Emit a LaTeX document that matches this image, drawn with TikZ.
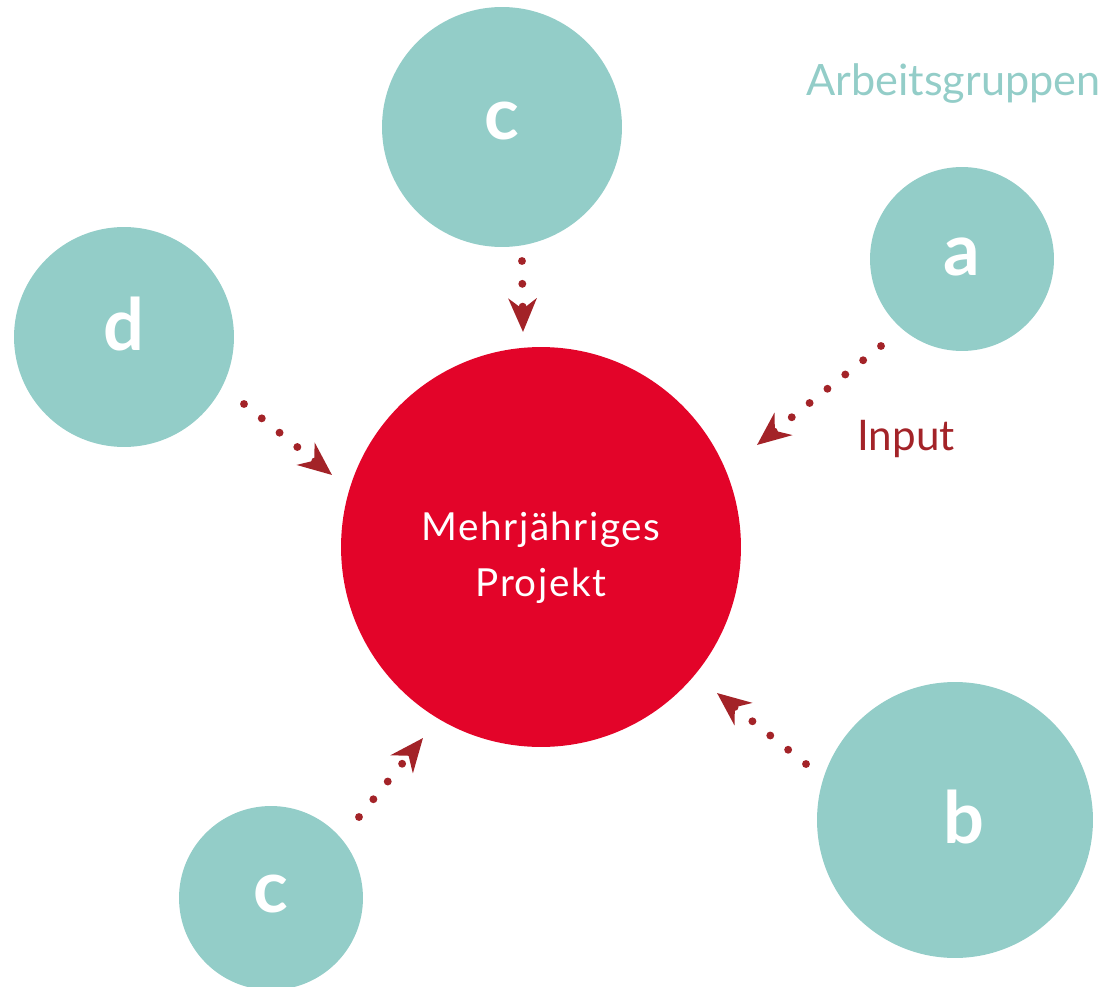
\documentclass[tikz,border=0pt]{standalone}
\usepackage{fontspec}
\setmainfont{Lato}
\usetikzlibrary{arrows.meta}

\definecolor{gruppe}{HTML}{93CDC8}
\definecolor{projekt}{HTML}{E30429}
\definecolor{pfeil}{HTML}{A32328}

\tikzset{
  gruppe/.style={circle, fill=gruppe, text=white, text depth=0pt,
    font=\bfseries\fontsize{41}{41}\selectfont},
  input/.style={draw=pfeil, line width=4.5pt, line cap=round,
    dash pattern=on 0pt off 13pt,
    -{Stealth[length=19pt, width=16pt, inset=6pt, fill=pfeil]}},
}

\begin{document}
\begin{tikzpicture}[x=0.02cm, y=-0.02cm]
\useasboundingbox (0,0) rectangle (1107,987);

\node[circle, fill=projekt, minimum size=8cm] (projekt) at (541,547) {};
\node[text=white, align=center,
  font=\fontsize{22}{32}\selectfont\addfontfeatures{LetterSpace=4}] (projekttitel) at (541,558) {Mehrjähriges\\Projekt};

\node[gruppe, minimum size=4.8cm, text height=0.52cm] (c1) at (502,127) {c};
\node[gruppe, minimum size=3.68cm, text height=0.68cm] (a) at (962,259) {a};
\node[gruppe, minimum size=4.4cm, text height=0.56cm] (d) at (124,337) {d};
\node[gruppe, minimum size=5.52cm, text height=0.92cm] (b) at (955,820) {\hspace*{0.36cm}b};
\node[gruppe, minimum size=3.68cm, text height=0.56cm] (c2) at (271,898) {c};

\node[anchor=base west, inner sep=0pt, text=gruppe, font=\fontsize{24.6}{24}\selectfont] (gruppen) at (806,95) {Arbeitsgruppen};
\node[anchor=base west, inner sep=0pt, text=pfeil, font=\fontsize{24}{24}\selectfont] (inputlabel) at (857,450) {Input};

\coordinate (c1out) at (522,261);
\coordinate (c1in) at (523,332);
\coordinate (aout) at (881,346);
\coordinate (ain) at (757,445);
\coordinate (dout) at (244,404);
\coordinate (din) at (332,475);
\coordinate (c2out) at (359,817);
\coordinate (c2in) at (423,738);
\coordinate (bout) at (806,764);
\coordinate (bin) at (717,693);

\draw[input] (c1out) -- (c1in);
\draw[input] (aout) -- (ain);
\draw[input] (dout) -- (din);
\draw[input] (c2out) -- (c2in);
\draw[input] (bout) -- (bin);
\end{tikzpicture}
\end{document}
